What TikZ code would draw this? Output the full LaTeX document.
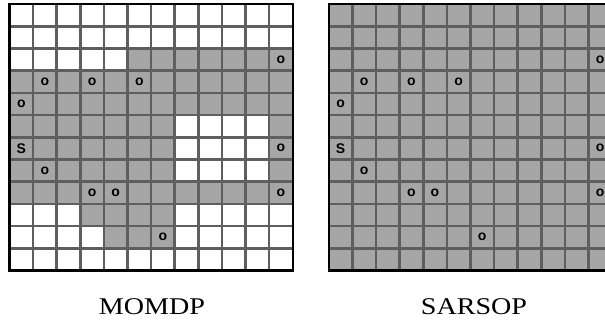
\documentclass[tikz,border=0pt]{standalone}
\usepackage{fontspec}
\setmainfont{Liberation Serif}
\setsansfont{Liberation Sans}
\usetikzlibrary{positioning}
\definecolor{cellgray}{HTML}{A6A6A6}
\definecolor{linegray}{HTML}{5F5F5F}
\newcommand{\cellw}{23.6pt}
\newcommand{\cellh}{22.2pt}

\begin{document}
\begin{tikzpicture}[
  x=1pt, y=-1pt,
  gridline/.style={draw=linegray, line width=2.6pt},
  frame/.style={draw=black, line width=2.4pt},
  tok/.style={font=\sffamily\bfseries\fontsize{14}{14}\selectfont, inner sep=0pt},
  caption/.style={font=\fontsize{24}{24}\selectfont, xscale=1.17, anchor=base}
]
  \clip (0,0) rectangle (605,324);
  \useasboundingbox (0,0) rectangle (605,324);
  % Left grid
  \begin{scope}[xshift=9.5pt, yshift=-4pt, x=\cellw, y=-\cellh]
    \foreach \r/\a/\b in {3/6/12, 4/1/12, 5/1/12, 6/1/7, 6/12/12, 7/1/7,
      7/12/12, 8/1/7, 8/12/12, 9/1/12, 10/4/7, 11/5/7}
      \fill[cellgray] (\a-1,\r-1) rectangle (\b,\r);
    \foreach \i in {1,...,11} {
      \draw[gridline] (\i,0) -- (\i,12);
      \draw[gridline] (0,\i) -- (12,\i);
    }
    \draw[frame] (0,0) rectangle (12,12);
    \foreach \r/\c/\t in {3/12/o, 4/2/o, 4/4/o, 4/6/o, 5/1/o, 7/1/S, 7/12/o,
      8/2/o, 9/4/o, 9/5/o, 9/12/o, 11/7/o}
      \node[tok] (L-\r-\c) at (\c-0.5,\r-0.5) {\t};
  \end{scope}
  % Right grid
  \begin{scope}[xshift=328.8pt, yshift=-4pt, x=\cellw, y=-\cellh]
    \fill[cellgray] (0,0) rectangle (12,12);
    \foreach \i in {1,...,11} {
      \draw[gridline] (\i,0) -- (\i,12);
      \draw[gridline] (0,\i) -- (12,\i);
    }
    \draw[frame] (0,0) rectangle (12,12);
    \foreach \r/\c/\t in {3/12/o, 4/2/o, 4/4/o, 4/6/o, 5/1/o, 7/1/S, 7/12/o,
      8/2/o, 9/4/o, 9/5/o, 9/12/o, 11/7/o}
      \node[tok] (R-\r-\c) at (\c-0.5,\r-0.5) {\t};
  \end{scope}
  % Captions
  \node[caption] (momdp) at (152,314) {MOMDP};
  \node[caption] (sarsop) at (474,314) {SARSOP};
\end{tikzpicture}
\end{document}
